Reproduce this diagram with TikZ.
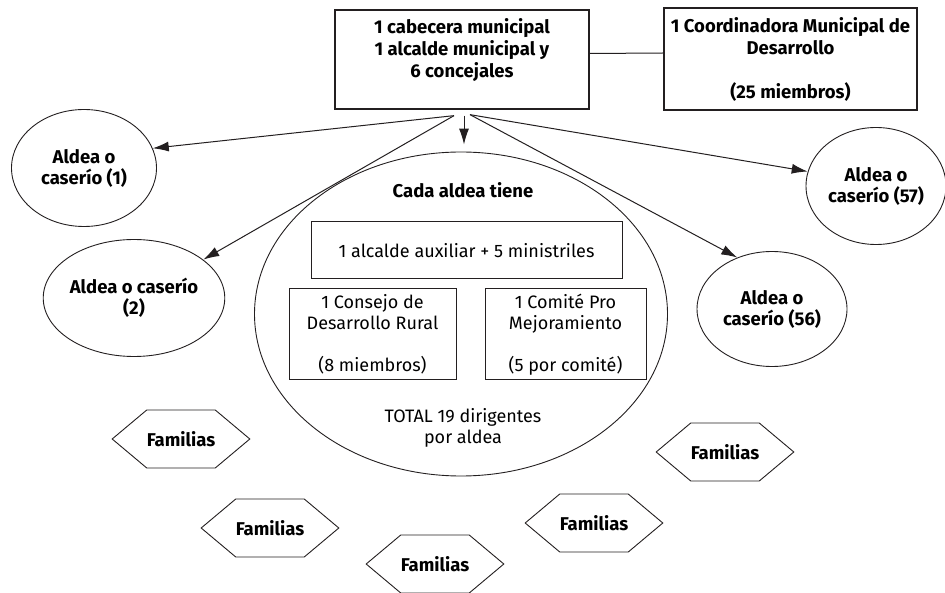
\documentclass[tikz,border=0pt]{standalone}
\usepackage{fontspec}
\setmainfont{Fira Sans}
\usetikzlibrary{shapes.geometric,shapes.symbols,arrows.meta,positioning}
\definecolor{ink}{HTML}{231F20}
\tikzset{
  headbox/.style={draw=ink, line width=1.3pt, align=center, inner sep=0pt,
    font=\fontsize{18.5}{22}\selectfont\bfseries},
  innerbox/.style={draw=ink, line width=1pt, align=center, inner sep=0pt,
    font=\fontsize{18}{21}\selectfont},
  aldea/.style={ellipse, draw=ink, line width=0.9pt, align=center, inner sep=0pt,
    font=\fontsize{18.5}{21}\selectfont\bfseries},
  familia/.style={signal, signal to=east and west, signal pointer angle=80,
    draw=ink, line width=0.9pt, inner sep=0pt, minimum width=137pt, minimum height=58pt,
    font=\fontsize{18.5}{21}\selectfont\bfseries},
  flecha/.style={draw=ink, line width=1pt, -{Latex[length=16pt,width=10pt]}}
}
\begin{document}
\begin{tikzpicture}[x=1pt, y=-1pt]
      \useasboundingbox (0,0) rectangle (945,593);

      \node[headbox, minimum width=254pt, minimum height=99pt] (cabecera) at (462,59.5)
        {1 cabecera municipal\\1 alcalde municipal y\\6 concejales\\\mbox{}};
      \node[headbox, minimum width=253pt, minimum height=102pt] (coordinadora) at (790.5,59)
        {1 Coordinadora Municipal de\\Desarrollo\\\mbox{}\\(25 miembros)};
      \draw[draw=ink, line width=1pt] ([yshift=6pt]cabecera.east) -- ([yshift=6pt]coordinadora.west);

      \node[aldea, minimum width=145pt, minimum height=117pt] (aldea1) at (84,168) {Aldea o\\caserío (1)};
      \node[aldea, minimum width=146pt, minimum height=117pt] (aldea2) at (134,298) {Aldea o caserío\\(2)};
      \node[aldea, minimum width=140pt, minimum height=117pt] (aldea57) at (876,186) {Aldea o\\caserío (57)};
      \node[aldea, minimum width=150pt, minimum height=115pt] (aldea56) at (772,309) {Aldea o\\caserío (56)};

      \node[ellipse, draw=ink, line width=0.9pt, minimum width=413pt, minimum height=324pt] (cada) at (461,314) {};
      \node[font=\fontsize{18.5}{21}\selectfont\bfseries] (tiene) at (463,190) {Cada aldea tiene};
      \node[innerbox, minimum width=311pt, minimum height=57pt] (alcalde) at (466.5,250.5)
        {1 alcalde auxiliar + 5 ministriles};
      \node[innerbox, minimum width=167pt, minimum height=91pt] (consejo) at (372.5,334.5)
        {1 Consejo de\\Desarrollo Rural\\\mbox{}\\(8 miembros)};
      \node[innerbox, minimum width=161pt, minimum height=91pt] (comite) at (565.5,334.5)
        {1 Comité Pro\\Mejoramiento\\\mbox{}\\(5 por comité)};
      \node[align=center, font=\fontsize{18}{21}\selectfont] (total) at (463,428)
        {TOTAL 19 dirigentes\\por aldea};

      \coordinate (salidaL) at ([xshift=-8pt,yshift=-6pt]cabecera.south);
      \coordinate (salidaC) at ([xshift=2pt,yshift=-6pt]cabecera.south);
      \coordinate (salidaR) at ([xshift=8pt,yshift=-5pt]cabecera.south);
      \draw[flecha] (salidaL) -- (aldea1.16);
      \draw[flecha] (salidaL) -- (aldea2.29);
      \draw[flecha, shorten >=7pt] (salidaC) -- (salidaC |- cada.north);
      \draw[flecha] (salidaR) -- (aldea57.168);
      \draw[flecha] (salidaR) -- (aldea56.124);

      \node[familia] (fam1) at (181,439) {Familias};
      \node[familia] (fam2) at (270,528) {Familias};
      \node[familia] (fam3) at (435,564) {Familias};
      \node[familia] (fam4) at (594,523) {Familias};
      \node[familia] (fam5) at (725,452) {Familias};

    \end{tikzpicture}
\end{document}
